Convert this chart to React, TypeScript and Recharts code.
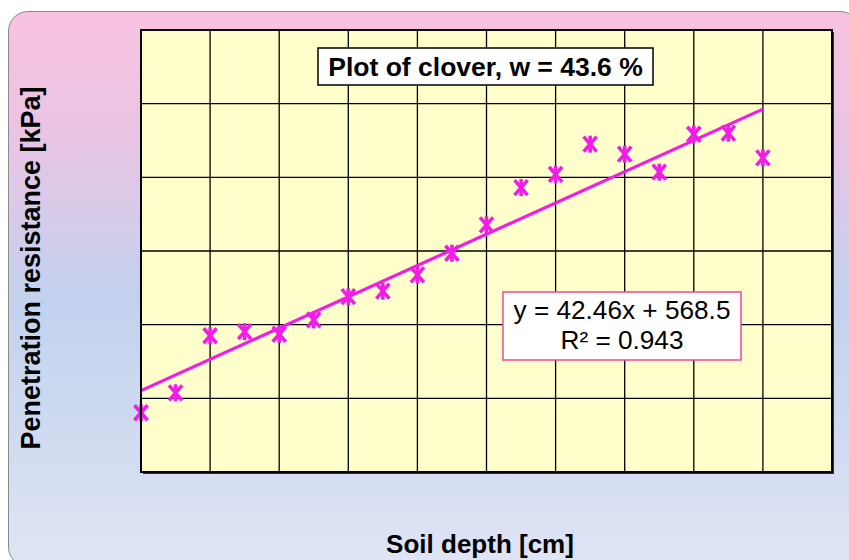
import { ScatterChart, Scatter, XAxis, YAxis, CartesianGrid } from "recharts";

// soil depth (cm) and measured penetration resistance (kPa)
const depths = [1, 2, 3, 4, 5, 6, 7, 8, 9, 10, 11, 12, 13, 14, 15, 16, 17, 18, 19];
const resistance = [551, 605, 760, 771, 764, 803, 866, 881, 925, 984, 1061, 1162, 1198, 1280, 1253, 1204, 1307, 1310, 1243];

const xTicks = [1, 3, 5, 7, 9, 11, 13, 15, 17, 19, 21];
const yTicks = [390, 590, 790, 990, 1190, 1390, 1590];

// linear trendline as printed on the chart
const trendSlope = 42.46;
const trendIntercept = 568.5;
const trendLabel = "y = 42.46x + 568.5";
const r2Label = "R² = 0.943";
const title = "Plot of clover, w = 43.6 %";

const MAGENTA = "#F21CE8";
const FONT = "'Liberation Sans', Arial, sans-serif";

const points = depths.map((d, i) => ({ x: d, y: resistance[i] }));
const trend = [depths[0], depths[depths.length - 1]].map((x) => ({
  x,
  y: trendSlope * x + trendIntercept,
}));

function StarMarker(props: any) {
  const { cx, cy } = props;
  if (cx == null || cy == null) return null;
  return (
    <g stroke={MAGENTA} strokeWidth={3.6} strokeLinecap="butt">
      <line x1={cx - 6.5} y1={cy - 7.5} x2={cx + 6.5} y2={cy + 7.5} />
      <line x1={cx - 6.5} y1={cy + 7.5} x2={cx + 6.5} y2={cy - 7.5} />
      <line x1={cx} y1={cy - 8.5} x2={cx} y2={cy + 8.5} />
    </g>
  );
}

export default function App() {
  return (
    <div
      style={{
        position: "absolute",
        left: 0,
        top: 0,
        width: 849,
        height: 560,
        overflow: "hidden",
        background: "#fff",
      }}
    >
      <div
        style={{
          position: "absolute",
          left: 8,
          top: 11,
          width: 852,
          height: 556,
          borderRadius: 20,
          border: "1.5px solid #8a8a8a",
          boxSizing: "border-box",
          background:
            "linear-gradient(to bottom, #F8C2DF 0%, #EAC4E4 22%, #C2D2EE 52%, #D2DCF1 80%, #DFE5F4 100%)",
        }}
      />
      {/* plot shadow */}
      <div
        style={{
          position: "absolute",
          left: 143,
          top: 32,
          width: 691,
          height: 442,
          background: "#333",
        }}
      />
      <div style={{ position: "absolute", left: 0, top: 0 }}>
        <ScatterChart
          width={849}
          height={560}
          margin={{ top: 30, right: 17, bottom: 88, left: 141 }}
        >
          <CartesianGrid
            stroke="#000"
            strokeWidth={1.3}
            fill="#FFFFCC"
            fillOpacity={1}
          />
          <XAxis
            type="number"
            dataKey="x"
            domain={[1, 21]}
            ticks={xTicks}
            hide
          />
          <YAxis
            type="number"
            dataKey="y"
            domain={[390, 1590]}
            ticks={yTicks}
            hide
          />
          <Scatter
            data={trend}
            line={{ stroke: MAGENTA, strokeWidth: 3.2 }}
            shape={() => null}
            isAnimationActive={false}
          />
          <Scatter data={points} shape={StarMarker} isAnimationActive={false} />
        </ScatterChart>
      </div>
      <svg
        width={849}
        height={560}
        style={{ position: "absolute", left: 0, top: 0, pointerEvents: "none" }}
      >
        <rect x={141} y={30} width={691} height={442} fill="none" stroke="#000" strokeWidth={2} />
        <rect x={318} y={48} width={335} height={37} fill="#fff" stroke="#000" strokeWidth={1.5} />
        <text
          x={485.5}
          y={75.5}
          textAnchor="middle"
          fontFamily={FONT}
          fontWeight="bold"
          fontSize={26.5}
          fill="#000"
        >
          {title}
        </text>
        <rect x={503} y={292} width={238} height={68} fill="#fff" stroke="#F0489B" strokeWidth={1.5} />
        <text x={622} y={318.5} textAnchor="middle" fontFamily={FONT} fontSize={26.2} fill="#000">
          {trendLabel}
        </text>
        <text x={622} y={348.5} textAnchor="middle" fontFamily={FONT} fontSize={26.2} fill="#000">
          {r2Label}
        </text>
        <text
          x={480}
          y={553}
          textAnchor="middle"
          fontFamily={FONT}
          fontWeight="bold"
          fontSize={26}
          fill="#000"
        >
          Soil depth [cm]
        </text>
        <text
          x={0}
          y={0}
          transform="translate(40 268) rotate(-90)"
          textAnchor="middle"
          fontFamily={FONT}
          fontWeight="bold"
          fontSize={27}
          fill="#000"
        >
          Penetration resistance [kPa]
        </text>
      </svg>
    </div>
  );
}
